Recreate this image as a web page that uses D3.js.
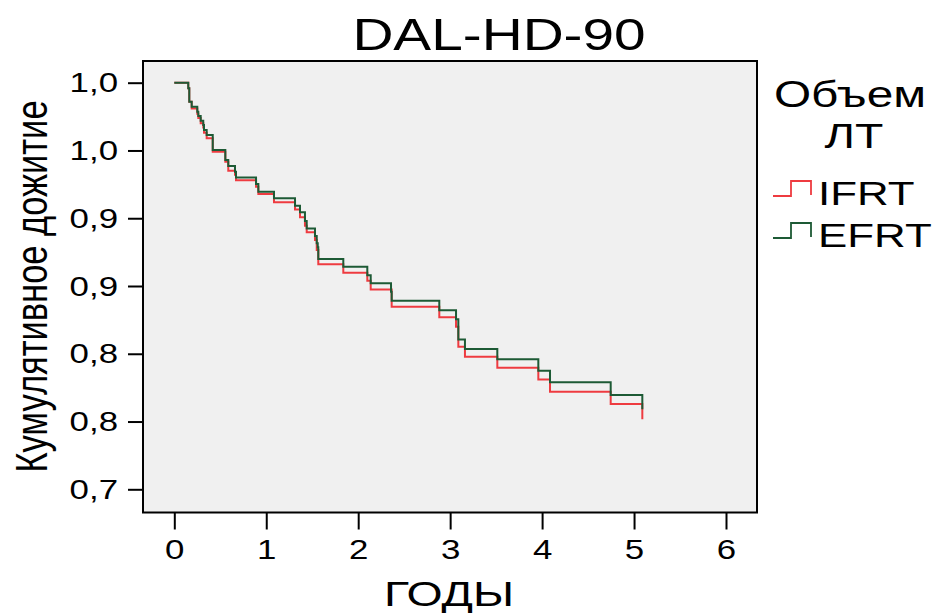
<!DOCTYPE html>
<html>
<head>
<meta charset="utf-8">
<script src="https://cdn.jsdelivr.net/npm/d3@7"></script>
<style>
  body { margin: 0; background: #fff; }
  text { font-family: "Liberation Sans", Arial, sans-serif; fill: #000; }
</style>
</head>
<body>
<script>
// Kaplan-Meier steps: time (years) and cumulative survival after each event
var ifrtTime = [0, 0.152, 0.163, 0.189, 0.250, 0.261, 0.287, 0.315, 0.323, 0.352, 0.418, 0.555, 0.587, 0.660, 0.671, 0.889, 0.914, 1.084, 1.313, 1.367, 1.421, 1.440, 1.530, 1.549, 1.566, 1.838, 2.099, 2.136, 2.364, 2.882, 3.064, 3.089, 3.161, 3.513, 3.959, 4.086, 4.746, 5.090];
var ifrtSurv = [1, 0.9959, 0.986, 0.981, 0.977, 0.974, 0.970, 0.967, 0.963, 0.959, 0.949, 0.9417, 0.935, 0.932, 0.9280, 0.9232, 0.9178, 0.9118, 0.9065, 0.9007, 0.8945, 0.8896, 0.8839, 0.8765, 0.866, 0.8598, 0.8539, 0.8475, 0.8347, 0.8269, 0.820, 0.8052, 0.7978, 0.7897, 0.7811, 0.772, 0.7629, 0.7516];

var efrtTime = [0, 0.152, 0.163, 0.189, 0.250, 0.261, 0.287, 0.315, 0.323, 0.352, 0.418, 0.555, 0.587, 0.660, 0.671, 0.889, 0.914, 1.084, 1.313, 1.367, 1.421, 1.440, 1.530, 1.549, 1.560, 1.566, 1.838, 2.099, 2.136, 2.357, 2.364, 2.882, 3.064, 3.089, 3.161, 3.513, 3.959, 4.086, 4.746, 5.090];
var efrtSurv = [1, 0.9959, 0.986, 0.9823, 0.9786, 0.9754, 0.972, 0.9688, 0.9651, 0.9614, 0.9503, 0.943, 0.9385, 0.9343, 0.930, 0.9252, 0.9195, 0.9147, 0.9092, 0.9044, 0.898, 0.8925, 0.8869, 0.8815, 0.8785, 0.8699, 0.8642, 0.858, 0.852, 0.8458, 0.8392, 0.8322, 0.8254, 0.8106, 0.8035, 0.796, 0.7874, 0.779, 0.7696, 0.759];

var groups = ["IFRT", "EFRT"];
var colors = ["#ee3b40", "#1d5a35"];

var xTicks = [0, 1, 2, 3, 4, 5, 6];
var yTicks = [1.0, 0.95, 0.9, 0.85, 0.8, 0.75, 0.7];
var yTickLabels = ["1,0", "1,0", "0,9", "0,9", "0,8", "0,8", "0,7"];

var w = 936, h = 615;
var sx = 1.29; // the picture is stretched sideways

var frame = {left: 143, top: 61, right: 757, bottom: 512.5};

var xScale = d3.scaleLinear().domain([0, 6]).range([174.3, 726]);
var yScale = d3.scaleLinear().domain([0.7, 1.0]).range([489.3, 82.7]);

var svg = d3.select("body").append("svg")
    .attr("width", w)
    .attr("height", h);

// plot area
svg.append("rect")
    .attr("x", frame.left).attr("y", frame.top)
    .attr("width", frame.right - frame.left)
    .attr("height", frame.bottom - frame.top)
    .attr("fill", "#f0f0f0");

// curves
var line = d3.line()
    .x(function(d){ return xScale(d[0]); })
    .y(function(d){ return yScale(d[1]); })
    .curve(d3.curveStepAfter);

var series = [d3.zip(ifrtTime, ifrtSurv), d3.zip(efrtTime, efrtSurv)];

svg.selectAll("path.km")
    .data(series)
    .enter()
    .append("path")
    .attr("class", "km")
    .attr("d", line)
    .attr("fill", "none")
    .attr("stroke", function(d, i){ return colors[i]; })
    .attr("stroke-width", 2);

// frame
svg.append("rect")
    .attr("x", frame.left).attr("y", frame.top)
    .attr("width", frame.right - frame.left)
    .attr("height", frame.bottom - frame.top)
    .attr("fill", "none")
    .attr("stroke", "#000")
    .attr("stroke-width", 2);

// axes
var yAxis = d3.axisLeft(yScale)
    .tickValues(yTicks)
    .tickSize(15)
    .tickFormat(function(d, i){ return yTickLabels[i]; });

var gy = svg.append("g")
    .attr("transform", "translate(" + frame.left + ",0)")
    .call(yAxis);
gy.select(".domain").remove();
gy.selectAll(".tick line").attr("stroke", "#000").attr("stroke-width", 2);
gy.selectAll(".tick text")
    .attr("font-size", 27)
    .attr("font-family", "Liberation Sans, Arial, sans-serif")
    .attr("fill", "#000")
    .attr("x", -25 / sx)
    .attr("dy", "0.34em")
    .attr("transform", "scale(" + sx + ",1)");

var xAxis = d3.axisBottom(xScale)
    .tickValues(xTicks)
    .tickSize(17)
    .tickFormat(d3.format("d"));

var gx = svg.append("g")
    .attr("transform", "translate(0," + frame.bottom + ")")
    .call(xAxis);
gx.select(".domain").remove();
gx.selectAll(".tick line").attr("stroke", "#000").attr("stroke-width", 2);
gx.selectAll(".tick text")
    .attr("font-size", 27)
    .attr("font-family", "Liberation Sans, Arial, sans-serif")
    .attr("fill", "#000")
    .attr("y", 46.5)
    .attr("dy", 0)
    .attr("transform", "scale(" + sx + ",1)");

// texts
function stretched(x, y, txt, size, anchor){
    return svg.append("text")
        .attr("transform", "translate(" + x + "," + y + ") scale(" + sx + ",1)")
        .attr("text-anchor", anchor || "middle")
        .attr("font-size", size)
        .text(txt);
}

stretched(499, 50, "DAL-HD-90", 44);
stretched(449, 606, "ГОДЫ", 36);

svg.append("text")
    .attr("transform", "translate(47,286.5) rotate(-90) scale(1," + sx + ")")
    .attr("text-anchor", "middle")
    .attr("font-size", 34.5)
    .text("Кумулятивное дожитие");

// legend
stretched(850, 107, "Объем", 37);
stretched(854, 148, "ЛТ", 36);

var legendY = [196, 238];
groups.forEach(function(g, i){
    var y = legendY[i];
    svg.append("path")
        .attr("d", "M773," + y + "H791V" + (y - 15) + "H811V" + (y - 1))
        .attr("fill", "none")
        .attr("stroke", colors[i])
        .attr("stroke-width", 1.8);
    stretched(818, y + 9, g, 34, "start");
});
</script>
</body>
</html>
